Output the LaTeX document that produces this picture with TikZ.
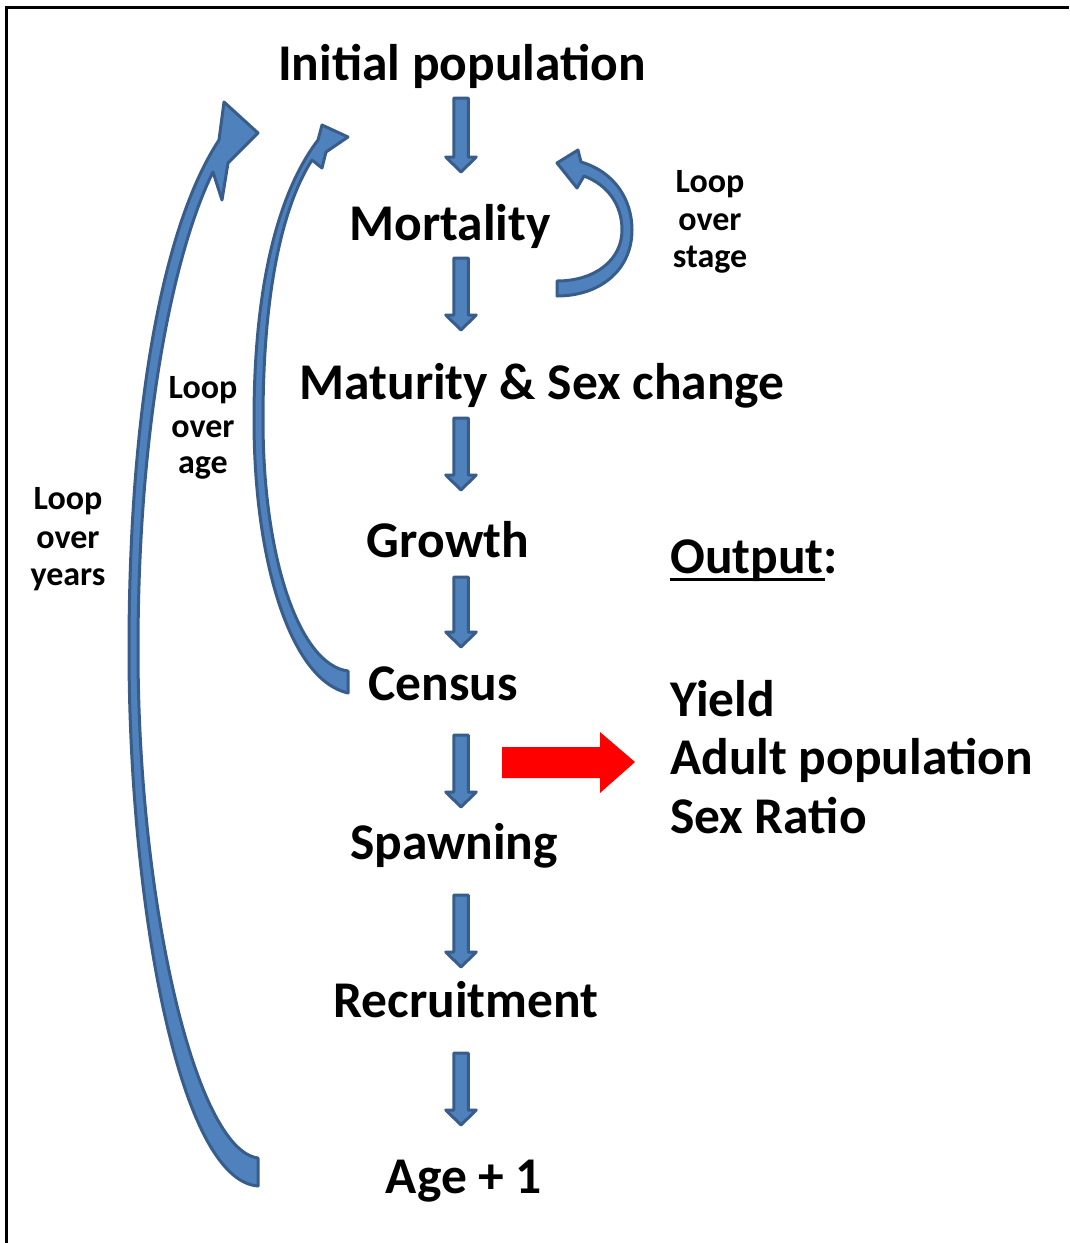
\documentclass[tikz,border=0pt]{standalone}
\usepackage{fontspec}
\setmainfont{Carlito}
\definecolor{bfill}{HTML}{4F81BD}
\definecolor{bline}{HTML}{385D8A}
\tikzset{
  barrow/.style={fill=bfill, draw=bline, line width=3pt, line join=round},
  bigtxt/.style={font=\bfseries\fontsize{51.5}{60}\selectfont, inner sep=0pt, anchor=base},
  smalltxt/.style={font=\bfseries\fontsize{34}{40}\selectfont, inner sep=0pt, anchor=base},
  outtxt/.style={bigtxt, anchor=base west},
}
\newcommand\blockdown[3]{%
  \filldraw[barrow] (#1-7.25,#2) -- (#1+7.25,#2) -- (#1+7.25,#3-15) -- (#1+15.25,#3-15)
    -- (#1,#3) -- (#1-15.25,#3-15) -- (#1-7.25,#3-15) -- cycle;}
\begin{document}
\begin{tikzpicture}[x=1pt,y=-1pt]
\useasboundingbox (0,0) rectangle (1069,1243);
\fill[white] (0,0) rectangle (1069,1243);
\draw[line width=3pt] (6.5,1243) -- (6.5,7) -- (1069,7);

% main steps
\node[bigtxt] (init)  at (462,80)   {Initial population};
\node[bigtxt] (mort)  at (450,240)  {Mortality};
\node[bigtxt] (mat)   at (542,399)  {Maturity \& Sex change};
\node[bigtxt] (grow)  at (448,557)  {Growth};
\node[bigtxt] (cens)  at (443,700)  {Census};
\node[bigtxt] (spawn) at (454,859)  {Spawning};
\node[bigtxt] (recr)  at (466,1017) {Recruitment};
\node[bigtxt] (age)   at (464,1193) {Age + 1};

% output
\node[outtxt] (out)   at (670,573) {Output:};
\draw[line width=3pt] ([yshift=-6pt]out.base west) -- ++(155,0);
\node[outtxt] (yield) at (670,716) {Yield};
\node[outtxt] (adult) at (670,774) {Adult population};
\node[outtxt] (sexr)  at (670,833) {Sex Ratio};

% loop labels
\node[smalltxt] (ls1) at (710,192) {Loop};
\node[smalltxt] (ls2) at (710,230) {over};
\node[smalltxt] (ls3) at (710,267) {stage};
\node[smalltxt] (la1) at (203,398) {Loop};
\node[smalltxt] (la2) at (203,437) {over};
\node[smalltxt] (la3) at (203,473) {age};
\node[smalltxt] (ly1) at (68,509) {Loop};
\node[smalltxt] (ly2) at (68,548) {over};
\node[smalltxt] (ly3) at (68,585) {years};

% down block arrows
\blockdown{461}{98}{172}
\blockdown{461}{258}{330}
\blockdown{461}{418}{490}
\blockdown{461}{577}{647}
\blockdown{461}{735}{807}
\blockdown{461}{895}{967}
\blockdown{461}{1053}{1125}

% output arrow
\fill[red] (502,747) -- (600,747) -- (600,732) -- (635,762) -- (600,793)
  -- (600,778) -- (502,778) -- cycle;

% loop over years
\filldraw[barrow] (258,1158) .. controls (195,1150) and (138,900) .. (138,650)
  .. controls (138,430) and (172,255) .. (213,172)
  -- (222,200) -- (228,163) -- (258,133) -- (224,102) -- (219,140)
  .. controls (160,230) and (129,420) .. (129,650)
  .. controls (129,900) and (178,1180) .. (258,1186) -- cycle;

% loop over age
\filldraw[barrow] (348,671) .. controls (300,665) and (263,560) .. (263,420)
  .. controls (263,290) and (283,205) .. (312,160)
  -- (322,168) -- (326,152) -- (348,137) -- (322,125) -- (318,140)
  .. controls (280,190) and (254,280) .. (254,420)
  .. controls (254,560) and (290,680) .. (348,693) -- cycle;

% loop over stage
\filldraw[barrow] (557,281) .. controls (595,281) and (622,260) .. (622,230)
  .. controls (622,205) and (608,185) .. (584,176)
  -- (577,188) -- (557,163) -- (578,150) -- (581,162)
  .. controls (615,172) and (632,200) .. (632,230)
  .. controls (632,270) and (600,296) .. (557,296) -- cycle;
\end{tikzpicture}
\end{document}
